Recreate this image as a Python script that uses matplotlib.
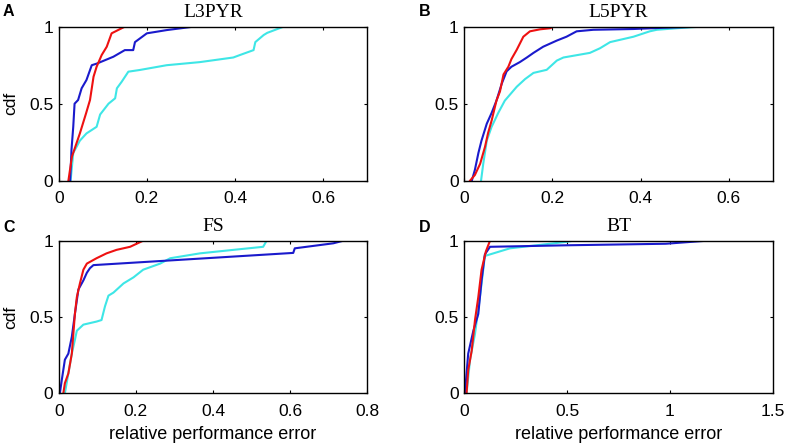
import matplotlib
matplotlib.use("Agg")
import matplotlib.pyplot as plt

# ---- data ----
# Panel A: L3PYR
a_red_x = [0.022, 0.030, 0.048, 0.062, 0.071, 0.079, 0.086, 0.0975, 0.109, 0.12, 0.147, 0.15]
a_red_y = [0, 0.156, 0.307, 0.437, 0.524, 0.675, 0.74, 0.816, 0.87, 0.957, 0.996, 1.0]
a_blue_x = [0.026, 0.029, 0.033, 0.036, 0.044, 0.052, 0.063, 0.075, 0.086, 0.124, 0.15, 0.169, 0.173, 0.2, 0.245, 0.305]
a_blue_y = [0, 0.2, 0.35, 0.5, 0.524, 0.6, 0.654, 0.75, 0.76, 0.805, 0.848, 0.848, 0.9, 0.957, 0.978, 1.0]
a_cyan_x = [0.027, 0.033, 0.048, 0.063, 0.086, 0.094, 0.113, 0.128, 0.132, 0.143, 0.158, 0.184, 0.245, 0.32, 0.396, 0.411, 0.442, 0.446, 0.465, 0.473, 0.51]
a_cyan_y = [0, 0.18, 0.26, 0.307, 0.35, 0.43, 0.5, 0.535, 0.6, 0.643, 0.708, 0.719, 0.75, 0.77, 0.8, 0.816, 0.848, 0.9, 0.946, 0.96, 1.0]

# Panel B: L5PYR
b_red_x = [0.013, 0.024, 0.036, 0.047, 0.054, 0.062, 0.073, 0.081, 0.089, 0.1, 0.107, 0.119, 0.134, 0.149, 0.172, 0.195, 0.202]
b_red_y = [0, 0.037, 0.11, 0.22, 0.31, 0.39, 0.52, 0.58, 0.69, 0.74, 0.79, 0.85, 0.935, 0.97, 0.983, 0.99, 1.0]
b_blue_x = [0.017, 0.024, 0.032, 0.039, 0.051, 0.062, 0.073, 0.085, 0.096, 0.107, 0.126, 0.142, 0.157, 0.179, 0.21, 0.232, 0.255, 0.293, 0.384, 0.46, 0.535]
b_blue_y = [0, 0.07, 0.18, 0.26, 0.37, 0.44, 0.52, 0.63, 0.71, 0.74, 0.77, 0.8, 0.83, 0.87, 0.91, 0.935, 0.97, 0.98, 0.985, 0.994, 1.0]
b_cyan_x = [0.038, 0.043, 0.051, 0.062, 0.077, 0.092, 0.104, 0.119, 0.138, 0.157, 0.187, 0.21, 0.225, 0.285, 0.308, 0.331, 0.384, 0.421, 0.437, 0.482, 0.535]
b_cyan_y = [0, 0.11, 0.26, 0.35, 0.44, 0.52, 0.56, 0.61, 0.66, 0.7, 0.72, 0.78, 0.8, 0.83, 0.86, 0.9, 0.935, 0.97, 0.98, 0.99, 1.0]

# Panel C: FS
c_red_x = [0.012, 0.016, 0.025, 0.034, 0.038, 0.042, 0.047, 0.055, 0.064, 0.073, 0.098, 0.124, 0.15, 0.185, 0.219]
c_red_y = [0, 0.066, 0.13, 0.26, 0.39, 0.52, 0.63, 0.72, 0.81, 0.85, 0.885, 0.917, 0.94, 0.96, 1.0]
c_blue_x = [0.003, 0.008, 0.016, 0.025, 0.034, 0.042, 0.051, 0.064, 0.073, 0.081, 0.09, 0.608, 0.612, 0.712, 0.738]
c_blue_y = [0, 0.087, 0.22, 0.26, 0.37, 0.52, 0.68, 0.74, 0.79, 0.82, 0.84, 0.92, 0.95, 0.983, 1.0]
c_cyan_x = [0.016, 0.025, 0.034, 0.042, 0.047, 0.064, 0.098, 0.111, 0.12, 0.129, 0.142, 0.168, 0.194, 0.219, 0.263, 0.289, 0.366, 0.453, 0.53, 0.539]
c_cyan_y = [0, 0.13, 0.26, 0.35, 0.41, 0.45, 0.47, 0.48, 0.57, 0.64, 0.66, 0.72, 0.76, 0.81, 0.85, 0.885, 0.917, 0.94, 0.96, 1.0]

# Panel D: BT
d_red_x = [0.011, 0.019, 0.036, 0.052, 0.068, 0.084, 0.105, 0.125]
d_red_y = [0, 0.15, 0.28, 0.48, 0.63, 0.81, 0.93, 1.0]
d_blue_x = [0.003, 0.019, 0.044, 0.068, 0.084, 0.1, 0.125, 0.5, 0.98, 1.18]
d_blue_y = [0, 0.26, 0.41, 0.52, 0.74, 0.91, 0.96, 0.97, 0.98, 1.0]
d_cyan_x = [0.011, 0.028, 0.052, 0.076, 0.092, 0.1, 0.222, 0.5, 0.53]
d_cyan_y = [0, 0.22, 0.39, 0.63, 0.81, 0.9, 0.95, 0.993, 1.0]

titles = ["L3PYR", "L5PYR", "FS", "BT"]
letters = ["A", "B", "C", "D"]
xlims = [0.7, 0.7, 0.8, 1.5]
xticks = [[0, 0.2, 0.4, 0.6], [0, 0.2, 0.4, 0.6], [0, 0.2, 0.4, 0.6, 0.8], [0, 0.5, 1, 1.5]]
xticklabels = [["0", "0.2", "0.4", "0.6"], ["0", "0.2", "0.4", "0.6"],
               ["0", "0.2", "0.4", "0.6", "0.8"], ["0", "0.5", "1", "1.5"]]
yticks = [0, 0.5, 1]
yticklabels = ["0", "0.5", "1"]

panels = [
    [(a_cyan_x, a_cyan_y), (a_blue_x, a_blue_y), (a_red_x, a_red_y)],
    [(b_cyan_x, b_cyan_y), (b_blue_x, b_blue_y), (b_red_x, b_red_y)],
    [(c_cyan_x, c_cyan_y), (c_blue_x, c_blue_y), (c_red_x, c_red_y)],
    [(d_cyan_x, d_cyan_y), (d_blue_x, d_blue_y), (d_red_x, d_red_y)],
]
colors = ["#3ee6e6", "#1a1acc", "#ee1111"]

W, H = 787, 445
fig = plt.figure(figsize=(W / 100, H / 100), dpi=100)

rects = [
    (58.7, 26.7, 367.3, 180.7),
    (464.3, 26.7, 772.7, 180.7),
    (58.7, 240.7, 367.3, 393.3),
    (464.3, 240.7, 772.7, 393.3),
]
letter_pos = [(3, 16), (419, 16), (3, 232), (419, 232)]

sans = "Liberation Sans"
serif = "Liberation Serif"

for i in range(4):
    l, t, r, b = rects[i]
    ax = fig.add_axes([l / W, 1 - b / H, (r - l) / W, (b - t) / H])
    for (xs, ys), c in zip(panels[i], colors):
        ax.plot(xs, ys, color=c, lw=1.5)
    ax.set_xlim(0, xlims[i])
    ax.set_ylim(0, 1)
    ax.set_xticks(xticks[i])
    ax.set_xticklabels(xticklabels[i], fontfamily=sans, fontsize=12.5)
    ax.set_yticks(yticks)
    ax.set_yticklabels(yticklabels, fontfamily=sans, fontsize=12.5)
    ax.tick_params(direction="in", top=True, right=True, length=2.5, width=0.8)
    ax.tick_params(axis="x", pad=7.5)
    ax.tick_params(axis="y", pad=4)
    for s in ax.spines.values():
        s.set_linewidth(1.0)
    ax.set_title(titles[i], fontfamily=serif, fontsize=14, pad=7)
    if i in (0, 2):
        ax.set_ylabel("cdf", fontfamily=sans, fontsize=12.5, labelpad=8)
    if i in (2, 3):
        ax.set_xlabel("relative performance error", fontfamily=sans, fontsize=13, labelpad=5)
    lx, ly = letter_pos[i]
    fig.text(lx / W, 1 - ly / H, letters[i], fontfamily=sans, fontweight="bold", fontsize=11.5)

fig.savefig("out.png", dpi=100)
